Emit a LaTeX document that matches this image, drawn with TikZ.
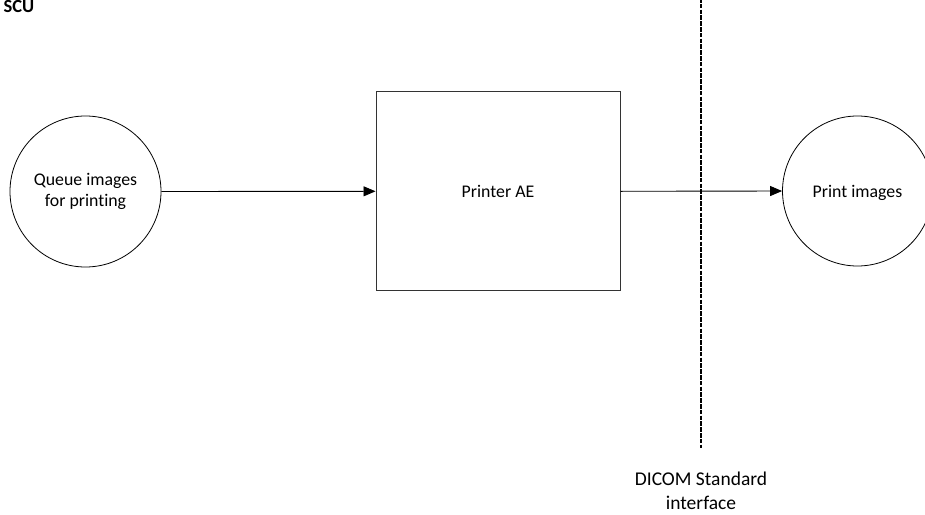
\documentclass[tikz,border=0pt]{standalone}
\usepackage{fontspec}
\setmainfont[Ligatures=NoCommon]{Carlito}
\usetikzlibrary{arrows.meta}
\tikzset{
  mainfont/.style={font=\fontsize{17.8}{21.7}\selectfont},
  procnode/.style={circle, draw=black, line width=0.8pt, minimum size=151pt, inner sep=0pt, align=center, mainfont},
  aebox/.style={draw=black!80, line width=1pt, minimum width=244pt, minimum height=199pt, inner sep=0pt, mainfont},
  flow/.style={draw=black, line width=0.9pt, -{Triangle[length=12pt,width=10pt]}},
  ifline/.style={draw=black, line width=1.6pt, dash pattern=on 4.5pt off 1.3pt},
}
\begin{document}
\begin{tikzpicture}[x=1pt,y=-1pt]
\useasboundingbox (0,0) rectangle (925,514);
\node[anchor=base east, font=\fontsize{18.5}{22}\selectfont\bfseries, inner sep=0pt] (scu) at (34.5,12.7) {SCU};
\node[procnode] (queue) at (85.5,191.5) {Queue images\\for printing};
\node[aebox] (ae) at (498,191.3) {Printer AE};
\node[procnode, minimum size=150pt, text depth=0pt] (print) at (857.5,191) {Print images};
\coordinate (dtop) at (701,-2);
\coordinate (dbot) at (701,448);
\draw[ifline] (dtop) -- (dbot);
\node[align=center, font=\fontsize{19.5}{23.5}\selectfont] (dicom) at (701,491) {DICOM Standard\\interface};
\draw[flow] (queue.east) -- (ae.west);
\draw[flow] (ae.east) -- (print.west);
\end{tikzpicture}
\end{document}
